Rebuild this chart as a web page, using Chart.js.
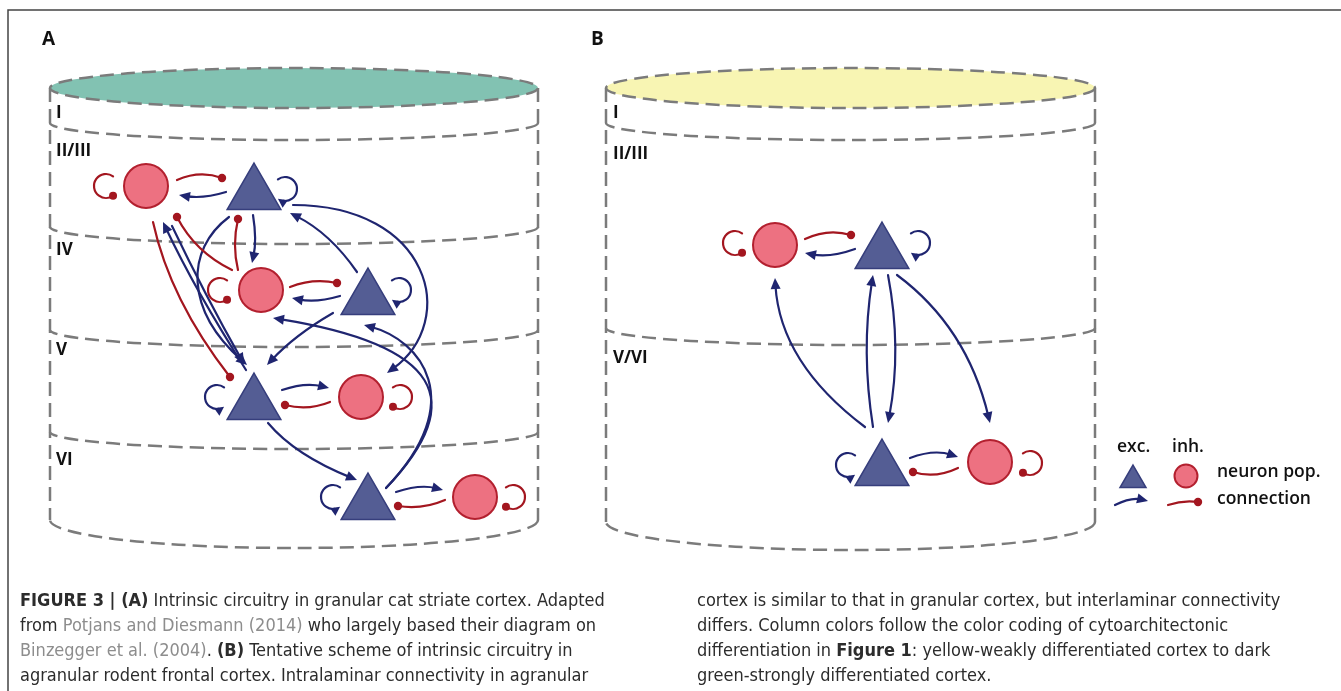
<!DOCTYPE html>
<html>
<head>
<meta charset="utf-8">
<script src="https://cdn.jsdelivr.net/npm/chart.js@4.4.1/dist/chart.umd.min.js"></script>
<style>
  html, body { margin: 0; padding: 0; background: #fff; }
  #wrap { width: 1341px; height: 691px; }
</style>
</head>
<body>
<div id="wrap"><canvas id="figure"></canvas></div>
<script>
// layer names of the two columns
const layersA = ['I', 'II/III', 'IV', 'V', 'VI'];
const layersB = ['I', 'II/III', 'V/VI'];

// neuron populations (figure coordinates)
const excA = [{x: 254, y: 194}, {x: 368, y: 299}, {x: 254, y: 404}, {x: 368, y: 504}];
const inhA = [{x: 146, y: 186}, {x: 261, y: 290}, {x: 361, y: 397}, {x: 475, y: 497}];
const excB = [{x: 882, y: 253}, {x: 882, y: 470}];
const inhB = [{x: 775, y: 245}, {x: 990, y: 462}];
const legendExc = [{x: 1133, y: 480}];
const legendInh = [{x: 1186, y: 476}];

// connections: start, control point(s), end
const excLinks = [
    [226, 192, 203, 199, 179, 195],
    [340, 296, 316, 303, 292, 298],
    [282, 390, 305, 382, 329, 388],
    [396, 492, 420, 484, 443, 490],
    [253, 215, 257, 240, 252, 263],
    [357, 272, 330, 233, 290, 213],
    [293, 205, 430, 205, 460, 320, 387, 373],
    [229, 217, 185, 250, 185, 310, 247, 365],
    [246, 370, 195, 290, 163, 222],
    [172, 226, 205, 295, 244, 364],
    [333, 313, 295, 335, 267, 365],
    [268, 423, 295, 455, 357, 480],
    [386, 488, 470, 400, 440, 345, 273, 318],
    [386, 488, 470, 400, 420, 340, 364, 325],
    [855, 249, 830, 258, 805, 253],
    [910, 458, 934, 449, 958, 457],
    [865, 427, 780, 363, 775, 278],
    [873, 427, 861, 351, 873, 275],
    [888, 275, 902, 349, 888, 423],
    [897, 275, 967, 327, 990, 423],
    [1115, 505, 1131, 497, 1148, 501]
];
const inhLinks = [
    [177, 180, 200, 170, 222, 178],
    [290, 287, 313, 278, 337, 283],
    [330, 402, 308, 411, 285, 405],
    [445, 500, 422, 510, 398, 506],
    [232, 270, 195, 252, 177, 217],
    [238, 270, 232, 245, 238, 219],
    [153, 222, 170, 300, 230, 377],
    [805, 239, 828, 228, 851, 235],
    [958, 468, 935, 479, 913, 472],
    [1168, 505, 1183, 500, 1198, 502]
];
// self connections: centre, side of the node
const excLoops = [[285, 189, 'R'], [399, 290, 'R'], [217, 397, 'L'], [333, 497, 'L'], [918, 243, 'R'], [848, 465, 'L']];
const inhLoops = [[106, 186, 'L'], [220, 290, 'L'], [400, 397, 'R'], [513, 497, 'R'], [735, 243, 'L'], [1030, 463, 'R']];

// column outlines
const columnA = {left: 50, right: 538, top: 88, bottom: 520, bounds: [123, 227, 330, 432], labelY: [113, 151, 250, 350, 460], fill: '#82c2b2'};
const columnB = {left: 606, right: 1095, top: 88, bottom: 522, bounds: [123, 328], labelY: [113, 154, 358], fill: '#f8f5b3'};

const captionLeft = [
    [['b', 'FIGURE 3 | (A)'], ['r', ' Intrinsic circuitry in granular cat striate cortex. Adapted']],
    [['r', 'from '], ['g', 'Potjans and Diesmann (2014)'], ['r', ' who largely based their diagram on']],
    [['g', 'Binzegger et al. (2004)'], ['r', '. '], ['b', '(B)'], ['r', ' Tentative scheme of intrinsic circuitry in']],
    [['r', 'agranular rodent frontal cortex. Intralaminar connectivity in agranular']]
];
const captionRight = [
    [['r', 'cortex is similar to that in granular cortex, but interlaminar connectivity']],
    [['r', 'differs. Column colors follow the color coding of cytoarchitectonic']],
    [['r', 'differentiation in '], ['b', 'Figure 1'], ['r', ': yellow-weakly differentiated cortex to dark']],
    [['r', 'green-strongly differentiated cortex.']]
];
const captionY = [601, 626, 651, 676];

const BLUE = '#1f2570';
const RED = '#a3161f';
const CAPFONT = '"Liberation Sans Narrow", "DejaVu Sans Condensed", sans-serif';

function arrowHead(ctx, x, y, dx, dy, len, half) {
    ctx.beginPath();
    ctx.moveTo(x, y);
    ctx.lineTo(x - dx * len - dy * half, y - dy * len + dx * half);
    ctx.lineTo(x - dx * len + dy * half, y - dy * len - dx * half);
    ctx.closePath();
    ctx.fill();
}

function dot(ctx, x, y, r) {
    ctx.beginPath();
    ctx.arc(x, y, r, 0, Math.PI * 2);
    ctx.fill();
}

function drawLink(ctx, X, Y, p, exc) {
    const n = p.length;
    const x1 = X(p[n - 2]), y1 = Y(p[n - 1]);
    const cx = X(p[n - 4]), cy = Y(p[n - 3]);
    let dx = x1 - cx, dy = y1 - cy;
    const d = Math.hypot(dx, dy);
    dx /= d; dy /= d;
    const back = exc ? 7 : 0;
    ctx.beginPath();
    ctx.moveTo(X(p[0]), Y(p[1]));
    if (n === 6) ctx.quadraticCurveTo(cx, cy, x1 - dx * back, y1 - dy * back);
    else ctx.bezierCurveTo(X(p[2]), Y(p[3]), cx, cy, x1 - dx * back, y1 - dy * back);
    ctx.stroke();
    if (exc) arrowHead(ctx, x1, y1, dx, dy, 11, 5);
    else dot(ctx, x1, y1, 4.2);
}

function drawLoop(ctx, X, Y, l, exc) {
    const r = 12;
    const x = X(l[0]), y = Y(l[1]);
    const left = l[2] === 'L';
    const a0 = left ? -0.3 * Math.PI : -0.7 * Math.PI;
    const a1 = left ? 0.3 * Math.PI : 0.7 * Math.PI;
    const cut = exc ? 0.5 : 0;
    ctx.beginPath();
    ctx.arc(x, y, r, a0, left ? a1 + cut : a1 - cut, left);
    ctx.stroke();
    const tx = x + r * Math.cos(a1), ty = y + r * Math.sin(a1);
    if (exc) {
        const dx = left ? Math.sin(a1) : -Math.sin(a1);
        const dy = left ? -Math.cos(a1) : Math.cos(a1);
        arrowHead(ctx, tx, ty, dx, dy, 9, 4.5);
    } else {
        dot(ctx, tx, ty, 4);
    }
}

function drawColumn(ctx, X, Y, c) {
    const x0 = X(c.left), x1 = X(c.right);
    const cx = (x0 + x1) / 2, rx = (x1 - x0) / 2;
    ctx.save();
    ctx.strokeStyle = '#7b7b7b';
    ctx.lineWidth = 2.5;
    ctx.setLineDash([14, 7]);
    ctx.beginPath();
    ctx.ellipse(cx, Y(c.top), rx, 20, 0, 0, Math.PI * 2);
    ctx.fillStyle = c.fill;
    ctx.fill();
    ctx.stroke();
    c.bounds.forEach(b => {
        ctx.beginPath();
        ctx.ellipse(cx, Y(b), rx, 17, 0, 0, Math.PI);
        ctx.stroke();
    });
    ctx.beginPath();
    ctx.ellipse(cx, Y(c.bottom), rx, 28, 0, 0, Math.PI);
    ctx.stroke();
    ctx.beginPath();
    ctx.moveTo(x0, Y(c.top)); ctx.lineTo(x0, Y(c.bottom));
    ctx.moveTo(x1, Y(c.top)); ctx.lineTo(x1, Y(c.bottom));
    ctx.stroke();
    ctx.restore();
}

const figurePlugin = {
    id: 'figure',
    beforeDatasetsDraw(chart) {
        const ctx = chart.ctx;
        const X = v => chart.scales.x.getPixelForValue(v);
        const Y = v => chart.scales.y.getPixelForValue(v);
        ctx.save();
        // frame
        ctx.strokeStyle = '#444';
        ctx.lineWidth = 1.5;
        ctx.beginPath();
        ctx.moveTo(X(1341), Y(10)); ctx.lineTo(X(8), Y(10)); ctx.lineTo(X(8), Y(691));
        ctx.stroke();

        drawColumn(ctx, X, Y, columnA);
        drawColumn(ctx, X, Y, columnB);

        ctx.lineWidth = 2.2;
        ctx.lineCap = 'round';
        ctx.strokeStyle = BLUE; ctx.fillStyle = BLUE;
        excLinks.forEach(p => drawLink(ctx, X, Y, p, true));
        excLoops.forEach(l => drawLoop(ctx, X, Y, l, true));
        ctx.strokeStyle = RED; ctx.fillStyle = RED;
        inhLinks.forEach(p => drawLink(ctx, X, Y, p, false));
        inhLoops.forEach(l => drawLoop(ctx, X, Y, l, false));
        ctx.restore();
    },
    afterDatasetsDraw(chart) {
        const ctx = chart.ctx;
        const X = v => chart.scales.x.getPixelForValue(v);
        const Y = v => chart.scales.y.getPixelForValue(v);
        ctx.save();
        ctx.fillStyle = '#111';
        ctx.textBaseline = 'middle';
        ctx.font = 'bold 19px "Open Sans", sans-serif';
        ctx.fillText('A', X(42), Y(40));
        ctx.fillText('B', X(591), Y(40));
        ctx.font = 'bold 17px "Open Sans", sans-serif';
        layersA.forEach((t, i) => ctx.fillText(t, X(56), Y(columnA.labelY[i])));
        layersB.forEach((t, i) => ctx.fillText(t, X(613), Y(columnB.labelY[i])));
        // legend
        ctx.font = '600 17.5px "Open Sans", sans-serif';
        ctx.fillText('exc.', X(1117), Y(447));
        ctx.fillText('inh.', X(1172), Y(447));
        ctx.fillText('neuron pop.', X(1217), Y(472));
        ctx.fillText('connection', X(1217), Y(499));
        // caption
        const runs = (lines, x) => lines.forEach((line, i) => {
            let cx = X(x);
            line.forEach(([s, t]) => {
                ctx.font = (s === 'b' ? 'bold ' : '') + '18px ' + CAPFONT;
                ctx.fillStyle = s === 'g' ? '#8d8d8d' : '#2c2c2c';
                ctx.fillText(t, cx, Y(captionY[i]));
                cx += ctx.measureText(t).width;
            });
        });
        runs(captionLeft, 20);
        runs(captionRight, 697);
        ctx.restore();
    }
};

const excStyle = {pointStyle: 'triangle', backgroundColor: '#545d94', borderColor: '#363e7c', borderWidth: 1.5};
const inhStyle = {pointStyle: 'circle', backgroundColor: '#ed7181', borderColor: '#b3202f', borderWidth: 2};

new Chart(document.getElementById('figure'), {
    type: 'scatter',
    data: {
        datasets: [
            Object.assign({data: excA, pointRadius: 31}, excStyle),
            Object.assign({data: inhA, pointRadius: 22}, inhStyle),
            Object.assign({data: excB, pointRadius: 31}, excStyle),
            Object.assign({data: inhB, pointRadius: 22}, inhStyle),
            Object.assign({data: legendExc, pointRadius: 15}, excStyle),
            Object.assign({data: legendInh, pointRadius: 11.5}, inhStyle)
        ]
    },
    options: {
        responsive: true,
        maintainAspectRatio: false,
        animation: false,
        events: [],
        layout: {padding: 0, autoPadding: false},
        scales: {
            x: {type: 'linear', min: 0, max: 1341, display: false},
            y: {type: 'linear', min: 0, max: 691, reverse: true, display: false}
        },
        plugins: {
            legend: {display: false},
            tooltip: {enabled: false}
        }
    },
    plugins: [figurePlugin]
});
</script>
</body>
</html>
